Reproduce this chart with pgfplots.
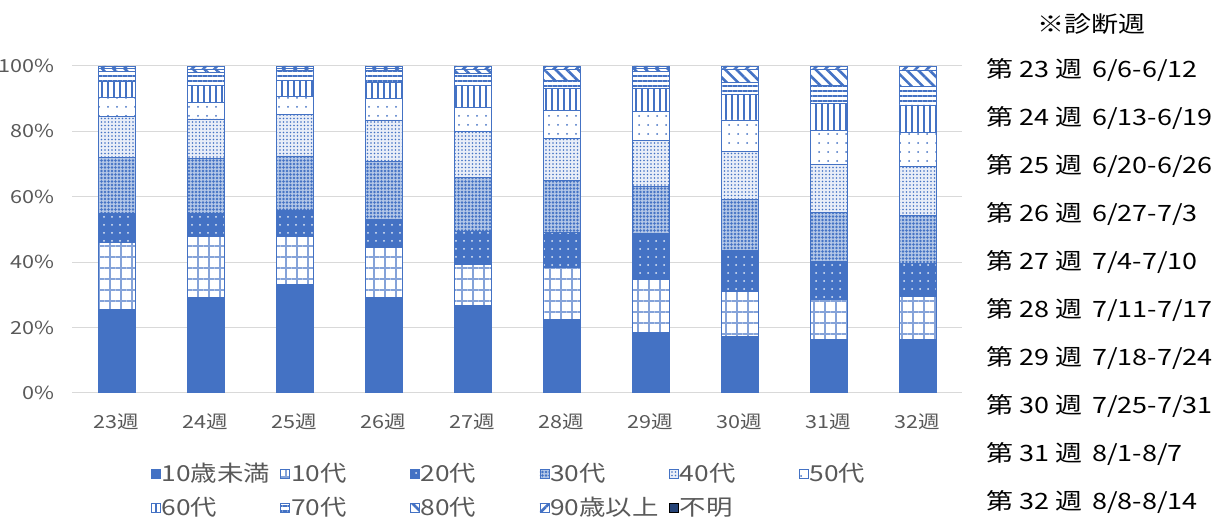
\documentclass[border=0pt]{standalone}
\usepackage{fontspec}
\setmainfont{Noto Sans CJK JP}[FakeStretch=1.2]
\usepackage{pgfplots}
\pgfplotsset{compat=1.18}
\usepackage{pgfplotstable}
\usetikzlibrary{patterns.meta}

\definecolor{bl}{HTML}{4472C4}
\definecolor{dbl}{HTML}{264478}
\definecolor{txt}{HTML}{595959}
\definecolor{grd}{HTML}{D9D9D9}

% share of cases by age group (%), per diagnosis week
\pgfplotstableread{
x u10  a10  a20  a30  a40  a50  a60 a70 a80 a90 unk
0 25.6 20.5 8.9  17.1 12.4 6.0  4.9 2.9 0.9 0.8 0
1 29.3 18.5 7.0  16.8 12.2 5.1  5.1 4.1 1.0 0.9 0
2 33.3 14.5 7.9  16.8 12.7 5.6  4.9 2.8 0.8 0.7 0
3 29.3 15.3 8.6  17.5 12.8 6.6  4.9 3.5 0.8 0.7 0
4 26.9 12.5 10.1 16.5 13.9 7.4  6.7 3.8 1.2 1.0 0
5 22.5 15.9 10.6 15.9 13.0 8.4  6.7 2.6 3.4 1.0 0
6 18.4 16.4 14.0 14.5 13.9 8.8  7.0 5.3 0.9 0.8 0
7 17.2 13.8 12.7 15.6 14.5 9.7  7.7 3.8 4.1 0.9 0
8 16.4 12.3 11.5 15.1 14.6 10.3 8.4 5.4 5.1 0.9 0
9 16.4 13.1 10.2 14.7 14.8 10.4 8.5 5.6 5.1 1.2 0
}\data

\newcommand{\legtxt}[1]{\makebox[118pt][l]{#1}}

\begin{document}
\begin{tikzpicture}
\path[use as bounding box] (0pt,0pt) rectangle (1231pt,521pt);
\begin{axis}[
  at={(72pt,128pt)}, anchor=south west,
  scale only axis, width=890pt, height=327pt,
  ybar stacked, bar width=37pt,
  xmin=-0.5, xmax=9.5, ymin=0, ymax=100,
  xtick={0,...,9},
  xticklabels={23週,24週,25週,26週,27週,28週,29週,30週,31週,32週},
  ytick={0,20,...,100},
  yticklabel={\pgfmathprintnumber{\tick}\%},
  /pgf/number format/assume math mode=true,
  ymajorgrids, grid style={grd, line width=1pt},
  axis line style={draw=none}, major tick style={draw=none},
  tick label style={font=\fontsize{18}{21}\selectfont, text=txt},
  xticklabel style={yshift=-17pt},
  yticklabel style={xshift=-14pt},
  every axis plot/.append style={line width=0.8pt},
  legend columns=6,
  legend cell align=left,
  legend style={at={(axis description cs:0.085,-0.205)}, anchor=north west,
    draw=none, fill=none, font=\fontsize{22}{26}\selectfont, text=txt,
    nodes={inner sep=1pt},
    /tikz/row sep=12pt,
    /tikz/every even column/.append style={column sep=0pt}},
  legend image code/.code={\draw[#1, line width=0.6pt] (0pt,-5pt) rectangle (9pt,4pt);},
]
\addplot[fill=bl, draw=bl] table[x=x,y=u10]{\data};
\addlegendentry{\legtxt{10歳未満}}
\addplot[fill=white, draw=bl, postaction={pattern={Hatch[angle=0,distance=11pt,line width=1.3pt]}, pattern color=bl!65}] table[x=x,y=a10]{\data};
\addlegendentry{\legtxt{10代}}
\addplot[fill=bl, draw=bl, postaction={pattern={Dots[distance=8pt,radius=1pt]}, pattern color=white!85!bl}] table[x=x,y=a20]{\data};
\addlegendentry{\legtxt{20代}}
\addplot[fill=bl!40!white, draw=bl, postaction={pattern={Dots[distance=3.5pt,radius=1.3pt]}, pattern color=bl}] table[x=x,y=a30]{\data};
\addlegendentry{\legtxt{30代}}
\addplot[fill=bl!12!white, draw=bl, postaction={pattern={Dots[distance=3.5pt,radius=0.9pt]}, pattern color=bl}] table[x=x,y=a40]{\data};
\addlegendentry{\legtxt{40代}}
\addplot[fill=white, draw=bl, postaction={pattern={Dots[distance=9pt,radius=1pt]}, pattern color=bl}] table[x=x,y=a50]{\data};
\addlegendentry{50代}
\addplot[fill=white, draw=bl, postaction={pattern={Lines[angle=90,distance=6pt,line width=1.3pt]}, pattern color=bl}] table[x=x,y=a60]{\data};
\addlegendentry{\legtxt{60代}}
\addplot[fill=white, draw=bl, postaction={pattern={Lines[angle=0,distance=5pt,line width=1.3pt]}, pattern color=bl}] table[x=x,y=a70]{\data};
\addlegendentry{\legtxt{70代}}
\addplot[fill=white, draw=bl, postaction={pattern={Lines[angle=-45,distance=8pt,line width=2.6pt]}, pattern color=bl}] table[x=x,y=a80]{\data};
\addlegendentry{\legtxt{80代}}
\addplot[fill=white, draw=bl, postaction={pattern={Lines[angle=45,distance=8pt,line width=2.6pt]}, pattern color=bl}] table[x=x,y=a90]{\data};
\addlegendentry{\legtxt{90歳以上}}
\addplot[fill=dbl, draw=none] table[x=x,y=unk]{\data};
\addlegendentry{不明}
\end{axis}

\begin{scope}[every node/.style={anchor=west, inner sep=0pt, font=\fontsize{22.5}{26}\selectfont}]
\node[anchor=center] at (1091pt,497pt) {※診断週};
\node at (986pt,451pt) {第 23 週\hspace{10pt}6/6-6/12};
\node at (986pt,403pt) {第 24 週\hspace{10pt}6/13-6/19};
\node at (986pt,355pt) {第 25 週\hspace{10pt}6/20-6/26};
\node at (986pt,307pt) {第 26 週\hspace{10pt}6/27-7/3};
\node at (986pt,259pt) {第 27 週\hspace{10pt}7/4-7/10};
\node at (986pt,211pt) {第 28 週\hspace{10pt}7/11-7/17};
\node at (986pt,163pt) {第 29 週\hspace{10pt}7/18-7/24};
\node at (986pt,115pt) {第 30 週\hspace{10pt}7/25-7/31};
\node at (986pt,67pt)  {第 31 週\hspace{10pt}8/1-8/7};
\node at (986pt,19pt)  {第 32 週\hspace{10pt}8/8-8/14};
\end{scope}
\end{tikzpicture}
\end{document}
